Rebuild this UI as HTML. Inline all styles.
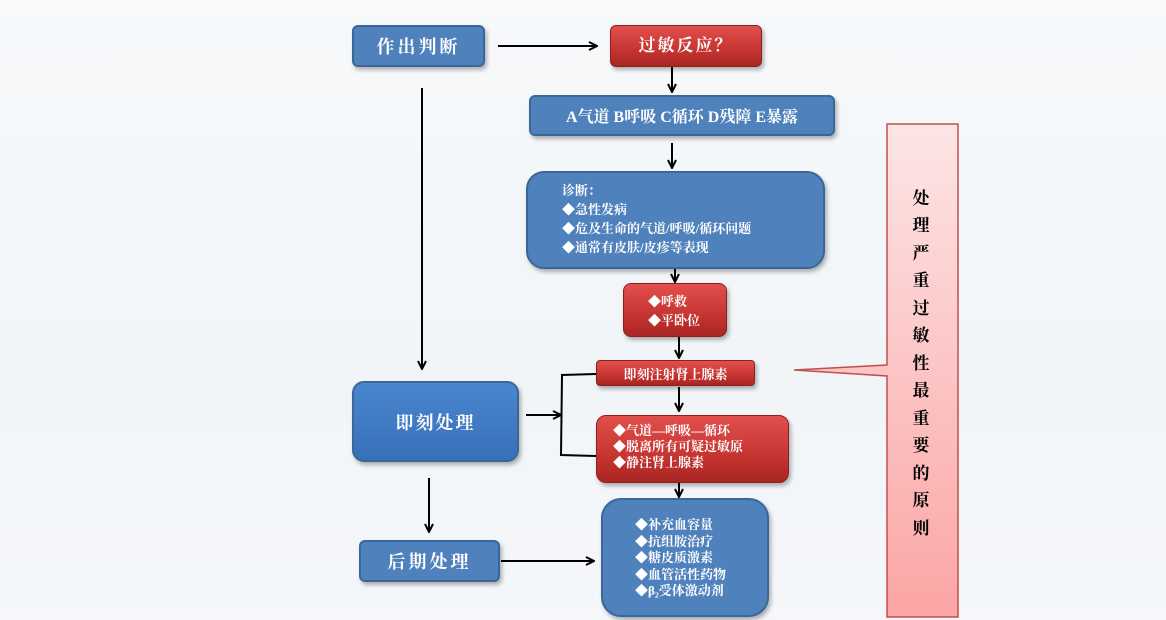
<!DOCTYPE html>
<html><head><meta charset="utf-8"><style>
body{margin:0;width:1166px;height:620px;position:relative;overflow:hidden;background:linear-gradient(180deg,#f7f9fb,#f1f5f8 60%,#f5f7fa);font-family:"Liberation Serif","Noto Serif CJK SC","Noto Sans CJK SC",serif;}
.b{position:absolute;box-sizing:border-box;color:#fff;background:#4f81bd;border:2px solid #3a6797;border-radius:6px;box-shadow:2px 3px 4px rgba(0,0,0,.3);}
.r{background:linear-gradient(180deg,#e2504d,#c0302d 70%,#a82623);border:1px solid #8c2020;}
.c{display:flex;align-items:center;justify-content:center;}
.t{font-size:13px;line-height:19px;font-weight:bold;}
</style></head><body>
<div class="b c" style="left:352px;top:25px;width:133px;height:42px;font-size:18px;letter-spacing:3px;font-weight:bold">作出判断</div>
<div class="b r c" style="left:610px;top:25px;width:152px;height:42px;font-size:17px;letter-spacing:2px;align-items:flex-start;padding-top:5px;font-weight:bold">过敏反应？</div>
<div class="b c" style="left:529px;top:95px;width:306px;height:41px;font-size:16px;font-weight:bold">A气道 B呼吸 C循环 D残障 E暴露</div>
<div class="b t" style="left:526px;top:171px;width:299px;height:98px;border-radius:18px;padding:8px 0 0 34px">诊断：<br>◆急性发病<br>◆危及生命的气道/呼吸/循环问题<br>◆通常有皮肤/皮疹等表现</div>
<div class="b r t" style="left:623px;top:283px;width:104px;height:54px;border-radius:8px;padding:8px 0 0 24px">◆呼救<br>◆平卧位</div>
<div class="b r c" style="left:596px;top:360px;width:159px;height:26px;font-size:13px;border-radius:4px;font-weight:bold">即刻注射肾上腺素</div>
<div class="b r t" style="left:596px;top:415px;width:193px;height:68px;border-radius:10px;padding:7px 0 0 16px;line-height:16px">◆气道—呼吸—循环<br>◆脱离所有可疑过敏原<br>◆静注肾上腺素</div>
<div class="b t" style="left:601px;top:498px;width:168px;height:119px;border-radius:20px;padding:17px 0 0 32px;line-height:16.5px">◆补充血容量<br>◆抗组胺治疗<br>◆糖皮质激素<br>◆血管活性药物<br>◆β₂受体激动剂</div>
<div class="b c" style="left:352px;top:381px;width:167px;height:81px;font-size:18px;letter-spacing:2px;border-radius:12px;background:linear-gradient(180deg,#4a86cf,#3670b8);font-weight:bold">即刻处理</div>
<div class="b c" style="left:359px;top:540px;width:141px;height:42px;font-size:18px;letter-spacing:3px;font-weight:bold">后期处理</div>
<svg style="position:absolute;left:0;top:0" width="1166" height="620">
<defs><marker id="a" markerWidth="10" markerHeight="10" refX="9" refY="5" orient="auto" markerUnits="userSpaceOnUse"><path d="M1,1 L9,5 L1,9" fill="none" stroke="#000" stroke-width="2"/></marker>
<linearGradient id="p" x1="0" y1="0" x2="0" y2="1"><stop offset="0" stop-color="#fde5e5"/><stop offset="1" stop-color="#fca5a5"/></linearGradient></defs>
<g stroke="#000" stroke-width="2" fill="none">
<line x1="498" y1="46" x2="597" y2="46" marker-end="url(#a)"/>
<line x1="672" y1="67" x2="672" y2="92" marker-end="url(#a)"/>
<line x1="672" y1="143" x2="672" y2="168" marker-end="url(#a)"/>
<line x1="675" y1="269" x2="675" y2="282" marker-end="url(#a)"/>
<line x1="679" y1="337" x2="679" y2="358" marker-end="url(#a)"/>
<line x1="679" y1="387" x2="679" y2="411" marker-end="url(#a)"/>
<line x1="679" y1="483" x2="679" y2="497" marker-end="url(#a)"/>
<line x1="422" y1="88" x2="422" y2="369" marker-end="url(#a)"/>
<line x1="429" y1="478" x2="429" y2="532" marker-end="url(#a)"/>
<line x1="501" y1="561" x2="594" y2="561" marker-end="url(#a)"/>
<line x1="526" y1="415" x2="561" y2="415" marker-end="url(#a)"/>
<path d="M596,374 L562,375 L561,455 L596,456"/>
</g>
<path d="M887,124 H958 V617 H887 V376 L794,370 L887,365 Z" fill="url(#p)" stroke="#c0504d" stroke-width="1.5"/>
<g font-size="17" font-weight="bold" fill="#000" text-anchor="middle" font-family="'Liberation Serif','Noto Serif CJK SC',serif">
<text x="921" y="204">处</text><text x="921" y="231">理</text><text x="921" y="259">严</text><text x="921" y="286">重</text><text x="921" y="314">过</text><text x="921" y="341">敏</text><text x="921" y="369">性</text><text x="921" y="396">最</text><text x="921" y="424">重</text><text x="921" y="451">要</text><text x="921" y="479">的</text><text x="921" y="506">原</text><text x="921" y="534">则</text>
</g>
</svg>
</body></html>
